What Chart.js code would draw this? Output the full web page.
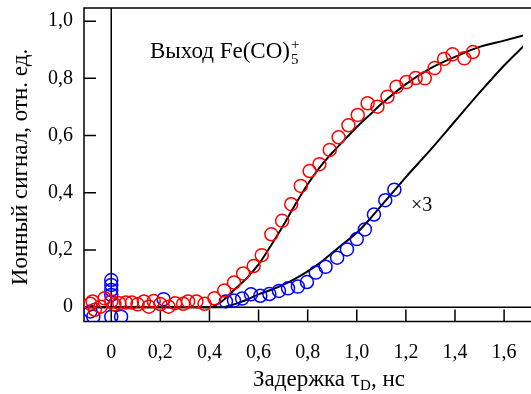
<!DOCTYPE html>
<html lang="ru">
<head>
<meta charset="UTF-8">
<title>Выход Fe(CO)5+</title>
<script src="https://cdn.jsdelivr.net/npm/chart.js"></script>
<style>
  body { margin: 0; background: #fff; }
  canvas { display: block; }
</style>
</head>
<body>
<canvas id="myChart" width="531" height="394"></canvas>
<script>
// Fe(CO)5+ yield vs delay (red), x3 curve (blue), fits (black)
const redX = [-0.085, -0.076, -0.067, -0.044, -0.027, 0.000, 0.013, 0.033, 0.060, 0.084,
              0.107, 0.133, 0.153, 0.173, 0.200, 0.233, 0.260, 0.293, 0.313, 0.347,
              0.380, 0.420, 0.460, 0.500, 0.537, 0.580, 0.613, 0.652, 0.696, 0.733,
              0.772, 0.808, 0.848, 0.890, 0.926, 0.966, 1.004, 1.044, 1.084, 1.125,
              1.162, 1.202, 1.240, 1.277, 1.317, 1.356, 1.390, 1.438, 1.473];
const redY = [0.012, 0.020, -0.009, 0.002, 0.031, 0.020, 0.010, 0.014, 0.016, 0.016,
              0.010, 0.020, 0.002, 0.022, 0.011, 0.002, 0.014, 0.012, 0.020, 0.020,
              0.012, 0.031, 0.058, 0.086, 0.118, 0.144, 0.182, 0.255, 0.302, 0.360,
              0.424, 0.476, 0.500, 0.550, 0.594, 0.636, 0.672, 0.713, 0.701, 0.736,
              0.771, 0.787, 0.801, 0.800, 0.836, 0.868, 0.884, 0.870, 0.892];

const blueX = [-0.085, -0.073, 0.000, 0.000, 0.000, 0.000, 0.000, 0.040, 0.213, 0.467,
               0.500, 0.533, 0.569, 0.607, 0.644, 0.683, 0.720, 0.760, 0.797, 0.833,
               0.873, 0.920, 0.960, 1.000, 1.033, 1.070, 1.116, 1.153];
const blueY = [-0.015, -0.033, -0.033, 0.043, 0.060, 0.078, 0.095, -0.033, 0.028, 0.020,
               0.023, 0.030, 0.045, 0.040, 0.046, 0.057, 0.066, 0.072, 0.088, 0.121,
               0.141, 0.173, 0.202, 0.238, 0.272, 0.324, 0.374, 0.411];

const fitRedX = [-0.12, 0.40, 0.45, 0.50, 0.55, 0.60, 0.65, 0.70, 0.75, 0.80, 0.85, 0.90,
                 0.95, 1.00, 1.05, 1.10, 1.20, 1.30, 1.40, 1.50, 1.60, 1.70];
const fitRedY = [0, 0, 0.02, 0.06, 0.10, 0.15, 0.215, 0.285, 0.36, 0.43, 0.49, 0.54,
                 0.585, 0.63, 0.67, 0.71, 0.78, 0.835, 0.875, 0.91, 0.932, 0.955];

const fitBlueX = [-0.12, 0.45, 0.50, 0.55, 0.60, 0.65, 0.70, 0.75, 0.80, 0.85, 0.90, 0.95,
                  1.00, 1.05, 1.10, 1.15, 1.20, 1.30, 1.40, 1.50, 1.60, 1.70];
const fitBlueY = [0, 0, 0.01, 0.025, 0.045, 0.06, 0.078, 0.10, 0.125, 0.155, 0.19, 0.225,
                  0.26, 0.305, 0.355, 0.405, 0.455, 0.55, 0.65, 0.75, 0.845, 0.93];

const xTicks = [0, 0.2, 0.4, 0.6, 0.8, 1.0, 1.2, 1.4, 1.6];
const yTicks = [0, 0.2, 0.4, 0.6, 0.8, 1.0];

const FONT = '"Liberation Serif", "Times New Roman", serif';

const pts = (xs, ys) => xs.map((v, i) => ({x: v, y: ys[i]}));
const fmt = v => v === 0 ? '0' : v.toFixed(1).replace('.', ',');

// frame, zero lines, inward ticks, labels
const framePlugin = {
    id: 'frame',
    beforeDatasetsDraw(chart) {
        const {ctx, chartArea: a, scales: {x, y}} = chart;
        const W = chart.width;
        ctx.save();
        ctx.strokeStyle = '#000';
        ctx.lineWidth = 1.5;
        ctx.beginPath();
        ctx.moveTo(W, a.top); ctx.lineTo(a.left, a.top);
        ctx.lineTo(a.left, a.bottom); ctx.lineTo(W, a.bottom);
        const x0 = x.getPixelForValue(0), y0 = y.getPixelForValue(0);
        ctx.moveTo(x0, a.top); ctx.lineTo(x0, a.bottom);
        ctx.moveTo(a.left, y0); ctx.lineTo(W, y0);
        xTicks.forEach(v => {
            const p = x.getPixelForValue(v);
            ctx.moveTo(p, a.bottom); ctx.lineTo(p, a.bottom - 12);
        });
        yTicks.forEach(v => {
            const p = y.getPixelForValue(v);
            ctx.moveTo(a.left, p); ctx.lineTo(a.left + 12, p);
        });
        ctx.stroke();
        ctx.restore();
    },
    afterDraw(chart) {
        const {ctx} = chart;
        ctx.save();
        ctx.fillStyle = '#000';
        ctx.textBaseline = 'alphabetic';
        ctx.textAlign = 'left';

        // annotation
        ctx.font = '23px ' + FONT;
        const t1 = 'Выход Fe(CO)';
        ctx.fillText(t1, 150, 58);
        const w1 = ctx.measureText(t1).width;
        ctx.font = '15px ' + FONT;
        ctx.fillText('5', 150 + w1 + 1, 64);
        ctx.fillText('+', 150 + w1 + 1, 49);

        ctx.font = '20px ' + FONT;
        ctx.fillText('×3', 411, 211);

        // x title
        ctx.font = '23px ' + FONT;
        const t2 = 'Задержка τ';
        ctx.fillText(t2, 253, 386);
        const w2 = ctx.measureText(t2).width;
        ctx.font = '15px ' + FONT;
        ctx.fillText('D', 253 + w2, 390);
        const w3 = ctx.measureText('D').width;
        ctx.font = '23px ' + FONT;
        ctx.fillText(', нс', 253 + w2 + w3, 386);

        // y title
        ctx.translate(27, 167);
        ctx.rotate(-Math.PI / 2);
        ctx.textAlign = 'center';
        ctx.fillText('Ионный сигнал, отн. ед.', 0, 0);
        ctx.restore();
    }
};

const ctx = document.getElementById('myChart').getContext('2d');
const myChart = new Chart(ctx, {
    type: 'scatter',
    data: {
        datasets: [
            {
                label: 'Fe(CO)5+',
                data: pts(redX, redY),
                pointStyle: 'circle',
                pointRadius: 6.5,
                pointBorderWidth: 1.5,
                borderColor: '#ff0000',
                backgroundColor: 'rgba(0,0,0,0)',
                showLine: false
            },
            {
                label: '×3',
                data: pts(blueX, blueY),
                pointStyle: 'circle',
                pointRadius: 6.5,
                pointBorderWidth: 1.5,
                borderColor: '#0000ff',
                backgroundColor: 'rgba(0,0,0,0)',
                showLine: false
            },
            {
                label: 'fit red',
                data: pts(fitRedX, fitRedY),
                showLine: true,
                pointRadius: 0,
                borderColor: '#000',
                borderWidth: 2,
                cubicInterpolationMode: 'monotone'
            },
            {
                label: 'fit blue',
                data: pts(fitBlueX, fitBlueY),
                showLine: true,
                pointRadius: 0,
                borderColor: '#000',
                borderWidth: 2,
                cubicInterpolationMode: 'monotone'
            }
        ]
    },
    options: {
        responsive: false,
        animation: false,
        devicePixelRatio: 1,
        layout: { padding: { top: 7, right: 0, left: 0, bottom: 0 } },
        plugins: {
            legend: { display: false },
            tooltip: { enabled: false }
        },
        scales: {
            x: {
                type: 'linear',
                min: -0.111,
                max: 1.677,
                afterFit: s => {
                    s.height = 72.5;
                    s.paddingLeft = 0;
                    s.paddingRight = 0;
                },
                afterBuildTicks: s => { s.ticks = xTicks.map(v => ({value: v})); },
                grid: { display: false, drawTicks: false },
                border: { display: false },
                ticks: {
                    padding: 19,
                    color: '#000',
                    font: { family: FONT, size: 20 },
                    maxRotation: 0,
                    autoSkip: false,
                    callback: v => fmt(v)
                }
            },
            y: {
                type: 'linear',
                min: -0.05,
                max: 1.046,
                afterFit: s => {
                    s.width = 84;
                    s.paddingTop = 0;
                    s.paddingBottom = 0;
                },
                afterBuildTicks: s => { s.ticks = yTicks.map(v => ({value: v})); },
                grid: { display: false, drawTicks: false },
                border: { display: false },
                ticks: {
                    padding: 11,
                    color: '#000',
                    font: { family: FONT, size: 20 },
                    callback: v => fmt(v)
                }
            }
        }
    },
    plugins: [framePlugin]
});
</script>
</body>
</html>
